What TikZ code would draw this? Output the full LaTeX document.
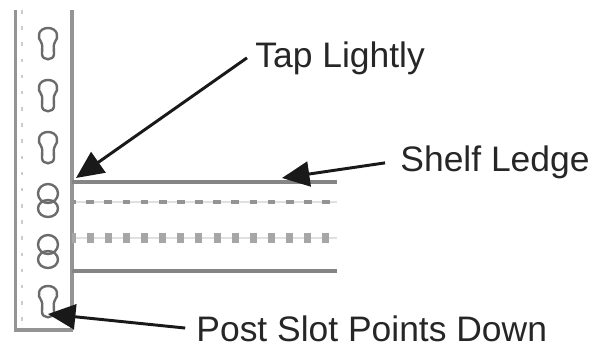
\documentclass[tikz,border=0pt]{standalone}
\usepackage{fontspec}
\setmainfont{Liberation Sans}
\usetikzlibrary{arrows.meta}
\tikzset{
  rail/.style={draw=black!42,line width=2.8pt},
  railDots/.style={draw=black!20,line width=1.4pt,dash pattern=on 2.5pt off 9pt},
  ledgeSolid/.style={draw=black!48,line width=2.3pt},
  ledgeFaint/.style={draw=black!12,line width=0.9pt},
  ledgeDash/.style={draw=black!42,line width=2.4pt,dash pattern=on 5.5pt off 7.4pt,dash phase=2.75pt},
  ledgeBlock/.style={draw=black!35,line width=7.5pt,dash pattern=on 5pt off 7.9pt,dash phase=2.5pt},
  slotLine/.style={draw=black!58,line width=1.7pt},
  callout/.style={font=\fontsize{25.2}{30}\selectfont,text=black!85,anchor=base west,inner sep=0pt,outer sep=6pt},
  pointer/.style={draw=black!90,line width=2.1pt,-{Triangle[length=19.5pt,width=17.7pt]}},
  keyhole/.pic={
    \draw[slotLine] (-7,14) .. controls (-11,10) and (-10,0) .. (0,0)
      .. controls (10,0) and (11,10) .. (7,14)
      .. controls (5,17) and (6,20) .. (6,26)
      .. controls (6,33) and (-6,33) .. (-6,26)
      .. controls (-6,20) and (-5,17) .. (-7,14) -- cycle;
  },
  eightslot/.pic={
    \draw[slotLine] (0,9.5) ellipse[x radius=10,y radius=9.5];
    \draw[slotLine] (0,24.5) ellipse[x radius=10,y radius=8.5];
  }
}
\begin{document}
\begin{tikzpicture}[x=0.025cm,y=-0.025cm]
    \useasboundingbox (0,0) rectangle (600,344);

    % post
    \draw[railDots] (22,10)--(22,330);
    \draw[rail] (15.5,10)--(15.5,330)--(73,330);
    \draw[rail] (72,10)--(72,330);
    \foreach \ypos in {28,80,132,286} {
        \pic at (48,\ypos) {keyhole};
    }
    \foreach \ypos in {184,235} {
        \pic at (48,\ypos) {eightslot};
    }

    % shelf
    \draw[ledgeSolid] (72,182)--(337,182);
    \draw[ledgeFaint] (72,202)--(337,202);
    \draw[ledgeDash] (72,202)--(337,202);
    \draw[ledgeFaint] (72,238)--(337,238);
    \draw[ledgeBlock] (72,238)--(337,238);
    \draw[ledgeSolid] (72,271)--(337,271);

    % labels and pointers
    \node[callout] (tap) at (247,67) {Tap Lightly};
    \node[callout] (ledge) at (392,171) {Shelf Ledge};
    \node[callout] (slot) at (188,341) {Post Slot Points Down};
    \coordinate (tapTip) at (76,178);
    \coordinate (ledgeTip) at (282,178);
    \coordinate (slotTip) at (48,314);
    \draw[pointer] (tap.west)--(tapTip);
    \draw[pointer,shorten <=5pt] (ledge.west)--(ledgeTip);
    \draw[pointer,shorten <=2pt] (slot.west)--(slotTip);
\end{tikzpicture}
\end{document}
